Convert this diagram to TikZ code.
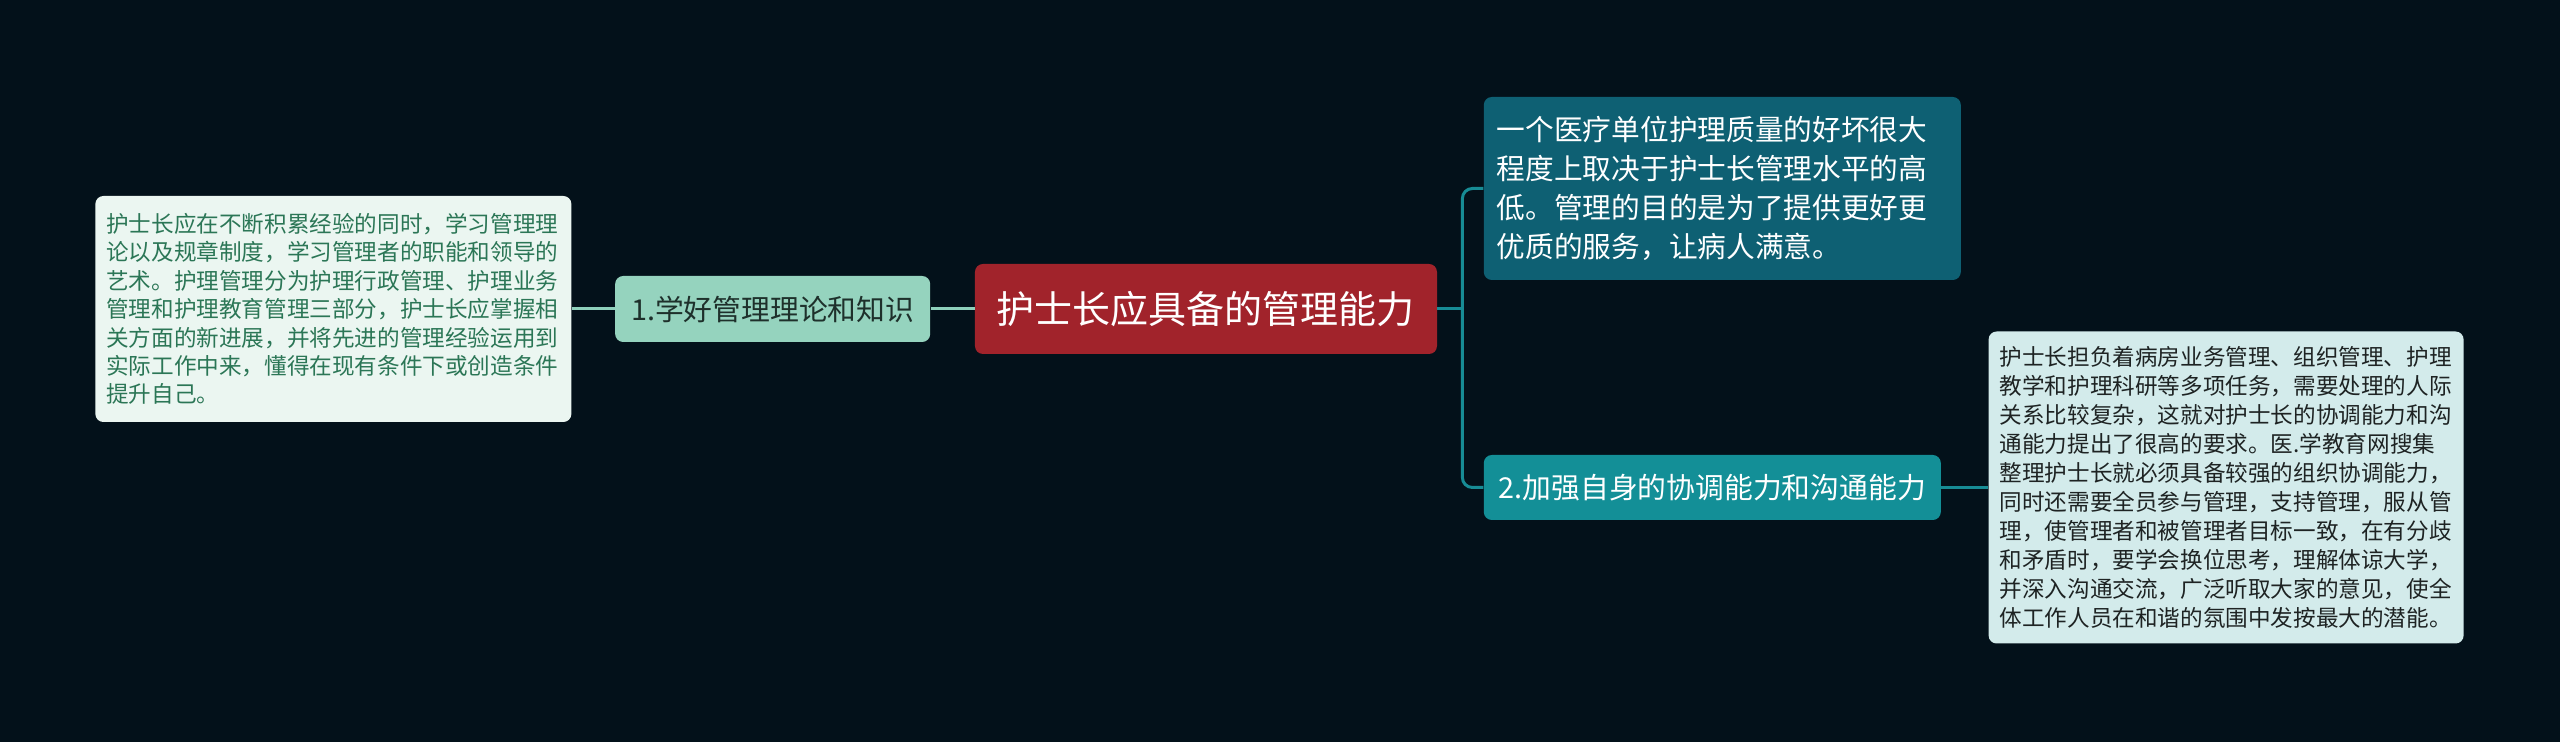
\documentclass[tikz,border=0pt]{standalone}
\usepackage{fontspec}
\setmainfont{Noto Sans CJK SC}
\usepackage{tikz}
\usetikzlibrary{positioning}

\definecolor{bgdark}{HTML}{03111A}
\definecolor{rootred}{HTML}{A1232B}
\definecolor{mintfill}{HTML}{95D3BE}
\definecolor{mintline}{HTML}{8ED0BB}
\definecolor{subdark}{HTML}{1E302B}
\definecolor{palefill}{HTML}{EBF6F1}
\definecolor{leafgreen}{HTML}{2B7656}
\definecolor{deepteal}{HTML}{0E6073}
\definecolor{midteal}{HTML}{138F97}
\definecolor{tealline}{HTML}{178C95}
\definecolor{icefill}{HTML}{D3EBEB}
\definecolor{icetext}{HTML}{1E2323}

\begin{document}
\begin{tikzpicture}[
  node distance=22pt,
  box/.style={rounded corners=4pt, inner sep=0pt, align=center},
  topic/.style={box, fill=rootred, text=white, font=\fontsize{19}{23}\selectfont, minimum width=231pt, minimum height=45pt},
  sub/.style={box, font=\fontsize{14.4}{18}\selectfont, minimum height=33pt},
  leaf/.style={box, align=left, inner xsep=5.5pt, font=\fontsize{11.3}{14.2}\selectfont},
  lnk/.style={line width=1.5pt, rounded corners=5pt}
]
\fill[bgdark] (-603pt,154.5pt) rectangle (677pt,-216.5pt);
\node[topic] (root) {护士长应具备的管理能力};
\node[sub, fill=mintfill, text=subdark, minimum width=157.5pt, left=of root] (sub1) {1.学好管理理论和知识};
\node[leaf, fill=palefill, text=leafgreen, text width=227pt, minimum height=113pt, left=21.5pt of sub1] (leaf1) {护士长应在不断积累经验的同时，学习管理理\\论以及规章制度，学习管理者的职能和领导的\\艺术。护理管理分为护理行政管理、护理业务\\管理和护理教育管理三部分，护士长应掌握相\\关方面的新进展，并将先进的管理经验运用到\\实际工作中来，懂得在现有条件下或创造条件\\提升自己。};
\node[leaf, fill=deepteal, text=white, text width=225.5pt, inner xsep=6.5pt, minimum height=91.5pt, font=\fontsize{14.35}{19.45}\selectfont, right=23pt of root, yshift=60.25pt] (leaf2) {一个医疗单位护理质量的好坏很大\\程度上取决于护士长管理水平的高\\低。管理的目的是为了提供更好更\\优质的服务，让病人满意。};
\node[sub, fill=midteal, text=white, minimum width=228.5pt, minimum height=32.5pt, right=23pt of root, yshift=-89.25pt] (sub2) {2.加强自身的协调能力和沟通能力};
\node[leaf, fill=icefill, text=icetext, text width=226.5pt, minimum height=156pt, font=\fontsize{11.3}{14.5}\selectfont, right=23.5pt of sub2] (leaf3) {护士长担负着病房业务管理、组织管理、护理\\教学和护理科研等多项任务，需要处理的人际\\关系比较复杂，这就对护士长的协调能力和沟\\通能力提出了很高的要求。医.学教育网搜集\\整理护士长就必须具备较强的组织协调能力，\\同时还需要全员参与管理，支持管理，服从管\\理，使管理者和被管理者目标一致，在有分歧\\和矛盾时，要学会换位思考，理解体谅大学，\\并深入沟通交流，广泛听取大家的意见，使全\\体工作人员在和谐的氛围中发按最大的潜能。};
\coordinate (hub) at ([xshift=12.5pt]root.east);
\draw[lnk, draw=mintline] (root.west) -- (sub1.east);
\draw[lnk, draw=mintline] (sub1.west) -- (leaf1.east);
\draw[lnk, draw=tealline] (root.east) -- (hub);
\draw[lnk, draw=tealline] (hub) |- (leaf2.west);
\draw[lnk, draw=tealline] (hub) |- (sub2.west);
\draw[lnk, draw=tealline] (sub2.east) -- (leaf3.west);
\end{tikzpicture}
\end{document}
